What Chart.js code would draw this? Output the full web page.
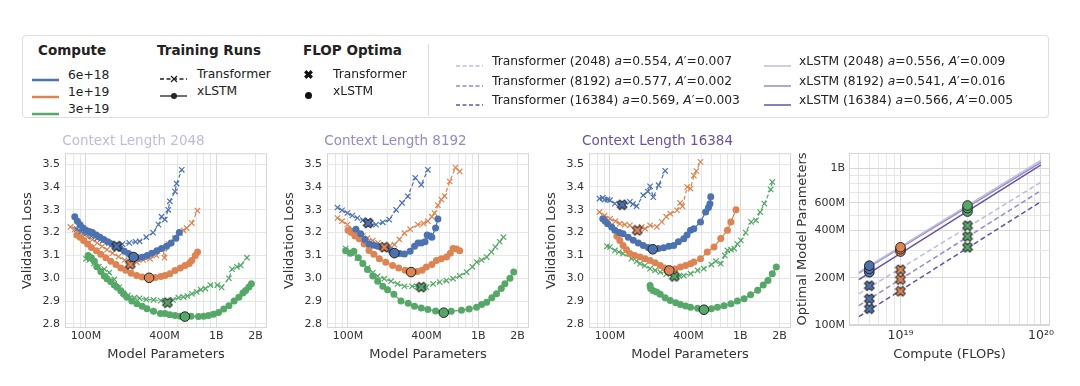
<!DOCTYPE html>
<html>
<head>
<meta charset="utf-8">
<script src="https://cdn.jsdelivr.net/npm/chart.js@4.4.1/dist/chart.umd.min.js"></script>
<style>
body { margin:0; background:#fff; font-family:'DejaVu Sans', sans-serif; color:#222; }
#wrap { position:relative; width:1080px; height:386px; overflow:hidden; }
canvas { position:absolute; }
.legend { position:absolute; left:22px; top:35px; width:1027px; height:83px; border:1px solid #dedede; border-radius:4px; box-sizing:border-box; }
.lt { position:absolute; white-space:nowrap; line-height:16px; color:#222; }
</style>
</head>
<body>
<div id="wrap"><div class="legend"></div></div>
<script>
// ---- data (model params in millions, validation loss) ----
// context 2048
const tf2048_6e18 = [[85,3.215],[92,3.205],[100,3.195],[110,3.185],[122,3.175],[135,3.165],[150,3.155],[171,3.145],[190,3.15],[215,3.155],[240,3.16],[258,3.162],[290,3.18],[327,3.2],[360,3.235],[380,3.27],[403,3.257],[428,3.3],[440,3.337],[482,3.38],[496,3.415],[543,3.475]];
const xl2048_6e18 = [[82,3.27],[86,3.25],[90,3.235],[95,3.22],[100,3.21],[106,3.205],[112,3.2],[120,3.19],[128,3.18],[137,3.17],[147,3.16],[158,3.15],[170,3.14],[183,3.13],[197,3.118],[212,3.108],[232,3.095],[250,3.09],[270,3.092],[295,3.1],[320,3.11],[350,3.12],[380,3.13],[415,3.14],[450,3.155],[490,3.175],[520,3.2]];
const tf2048_1e19 = [[76,3.225],[82,3.215],[88,3.205],[95,3.195],[103,3.18],[112,3.17],[122,3.155],[133,3.14],[145,3.125],[160,3.11],[178,3.095],[198,3.08],[220,3.063],[245,3.07],[275,3.08],[310,3.085],[347,3.1],[390,3.13],[400,3.09],[430,3.15],[480,3.175],[527,3.198],[560,3.21],[592,3.22],[649,3.242],[716,3.296]];
const xl2048_1e19 = [[85,3.19],[90,3.18],[96,3.165],[103,3.15],[110,3.135],[120,3.12],[130,3.105],[142,3.09],[155,3.075],[170,3.06],[185,3.045],[202,3.035],[222,3.022],[245,3.012],[270,3.005],[305,3.002],[340,3.003],[375,3.008],[404,3.012],[440,3.02],[482,3.034],[530,3.045],[576,3.056],[620,3.065],[648,3.078],[690,3.1],[718,3.115]];
const tf2048_3e19 = [[100,3.085],[106,3.08],[115,3.065],[125,3.05],[138,3.04],[151,3.025],[165,2.995],[180,2.96],[192,2.935],[210,2.925],[235,2.915],[258,2.912],[290,2.907],[330,2.905],[375,2.902],[423,2.895],[465,2.905],[512,2.915],[560,2.918],[600,2.922],[650,2.932],[708,2.94],[760,2.95],[825,2.955],[900,2.97],[1020,2.97],[1100,2.96],[1250,3.0],[1320,3.04],[1440,3.05],[1540,3.056],[1720,3.09]];
const xl2048_3e19 = [[104,3.1],[110,3.09],[116,3.075],[121,3.05],[130,3.03],[138,3.01],[145,2.998],[155,2.985],[165,2.97],[173,2.961],[185,2.945],[196,2.93],[206,2.917],[225,2.9],[246,2.888],[270,2.877],[294,2.866],[330,2.855],[373,2.846],[404,2.845],[440,2.84],[482,2.837],[530,2.834],[576,2.833],[640,2.833],[730,2.832],[800,2.834],[871,2.837],[950,2.842],[1040,2.85],[1140,2.865],[1250,2.88],[1370,2.9],[1490,2.917],[1600,2.935],[1680,2.946],[1780,2.962],[1860,2.976]];
const opt2048_tf = [[172,3.14],[219,3.061],[422,2.893]];
const opt2048_xl = [[232,3.093],[305,3.002],[574,2.832]];

// context 8192
const tf8192_6e18 = [[83,3.31],[90,3.298],[99,3.286],[108,3.275],[118,3.264],[130,3.255],[143,3.242],[164,3.235],[185,3.245],[207,3.257],[234,3.3],[260,3.33],[288,3.359],[328,3.44],[365,3.41],[410,3.475]];
const xl8192_6e18 = [[115,3.215],[125,3.195],[135,3.17],[145,3.15],[157,3.145],[169,3.14],[185,3.135],[201,3.13],[215,3.12],[227,3.11],[250,3.108],[271,3.106],[300,3.118],[324,3.14],[345,3.155],[365,3.155],[390,3.16],[405,3.19],[425,3.185],[440,3.18],[470,3.22],[490,3.26]];
const tf8192_1e19 = [[83,3.264],[90,3.25],[99,3.235],[108,3.215],[118,3.198],[130,3.185],[141,3.176],[155,3.165],[170,3.155],[190,3.136],[210,3.142],[227,3.147],[248,3.17],[271,3.198],[300,3.215],[343,3.235],[380,3.24],[410,3.25],[440,3.27],[462,3.286],[490,3.32],[520,3.345],[551,3.36],[604,3.424],[668,3.485],[720,3.468]];
const xl8192_1e19 = [[100,3.21],[106,3.2],[113,3.185],[122,3.173],[133,3.15],[145,3.122],[158,3.105],[174,3.086],[195,3.07],[220,3.056],[245,3.045],[275,3.035],[305,3.027],[340,3.03],[370,3.035],[399,3.049],[440,3.06],[477,3.078],[520,3.085],[570,3.093],[610,3.11],[641,3.13],[680,3.128],[720,3.12]];
const tf8192_3e19 = [[96,3.13],[106,3.11],[118,3.089],[130,3.065],[141,3.045],[155,3.025],[169,3.009],[190,2.998],[214,2.987],[240,2.975],[271,2.965],[310,2.965],[340,2.963],[365,2.961],[399,2.961],[450,2.975],[506,2.983],[570,2.99],[641,2.998],[720,3.01],[813,3.027],[900,3.05],[973,3.071],[1060,3.08],[1160,3.093],[1260,3.115],[1350,3.137],[1460,3.16],[1560,3.18]];
const xl8192_3e19 = [[96,3.12],[104,3.11],[111,3.118],[120,3.09],[130,3.065],[141,3.038],[155,3.01],[169,2.987],[185,2.965],[201,2.95],[225,2.93],[255,2.9],[290,2.89],[324,2.877],[365,2.87],[410,2.863],[470,2.857],[543,2.849],[620,2.855],[743,2.86],[850,2.865],[970,2.873],[1060,2.885],[1160,2.895],[1270,2.915],[1380,2.932],[1500,2.955],[1600,2.976],[1750,3.0],[1870,3.027]];
const opt8192_tf = [[143,3.242],[190,3.136],[365,2.961]];
const opt8192_xl = [[227,3.11],[305,3.027],[543,2.849]];

// context 16384
const tf16384_6e18 = [[83,3.349],[88,3.352],[91,3.345],[96,3.345],[100,3.342],[109,3.327],[124,3.322],[142,3.335],[150,3.325],[160,3.316],[180,3.364],[195,3.38],[203,3.403],[215,3.355],[236,3.408],[265,3.471]];
const xl16384_6e18 = [[88,3.261],[92,3.25],[96,3.239],[103,3.225],[109,3.21],[118,3.2],[126,3.195],[138,3.18],[151,3.166],[165,3.155],[180,3.144],[196,3.135],[213,3.127],[235,3.13],[258,3.134],[283,3.14],[308,3.144],[335,3.16],[368,3.173],[390,3.19],[415,3.21],[440,3.217],[495,3.247],[542,3.29],[570,3.31],[585,3.327],[593,3.357]];
const tf16384_1e19 = [[83,3.29],[91,3.275],[100,3.261],[110,3.25],[119,3.239],[130,3.235],[142,3.232],[162,3.21],[175,3.225],[186,3.217],[203,3.232],[229,3.225],[250,3.247],[270,3.27],[290,3.283],[327,3.298],[345,3.33],[360,3.315],[391,3.4],[415,3.393],[440,3.45],[460,3.47],[495,3.51]];
const xl16384_1e19 = [[113,3.184],[119,3.165],[126,3.144],[134,3.125],[142,3.108],[155,3.1],[170,3.093],[186,3.085],[203,3.078],[222,3.068],[243,3.056],[262,3.045],[285,3.034],[315,3.04],[347,3.049],[380,3.056],[415,3.064],[440,3.071],[495,3.086],[558,3.115],[628,3.137],[708,3.174],[797,3.21],[847,3.247],[927,3.3]];
const tf16384_3e19 = [[95,3.14],[100,3.137],[109,3.122],[117,3.115],[126,3.108],[146,3.086],[160,3.075],[170,3.064],[185,3.055],[203,3.042],[222,3.035],[243,3.027],[270,3.018],[312,3.008],[340,3.01],[368,3.012],[415,3.02],[470,3.035],[524,3.042],[600,3.06],[650,3.075],[708,3.064],[760,3.1],[797,3.122],[850,3.125],[898,3.13],[950,3.15],[1010,3.166],[1100,3.2],[1210,3.247],[1320,3.254],[1420,3.29],[1530,3.327],[1710,3.389],[1760,3.422]];
const xl16384_3e19 = [[203,2.968],[205,2.955],[215,2.945],[228,2.94],[243,2.93],[265,2.915],[290,2.903],[320,2.893],[347,2.885],[380,2.878],[415,2.873],[470,2.868],[526,2.864],[600,2.866],[668,2.873],[750,2.88],[847,2.888],[950,2.9],[1070,2.91],[1200,2.928],[1360,2.947],[1500,2.97],[1630,2.99],[1760,3.02],[1890,3.049]];
const opt16384_tf = [[124,3.322],[162,3.21],[312,3.008]];
const opt16384_xl = [[213,3.127],[285,3.034],[526,2.862]];

// optimal model parameters (millions) per compute budget
const computeLevels = [6e18, 1e19, 3e19];
const optTf2048 = [178, 225, 430];
const optTf8192 = [147, 195, 367];
const optTf16384 = [127, 164, 313];
const optXl2048 = [239, 313, 578];
const optXl8192 = [228, 304, 556];
const optXl16384 = [217, 294, 529];
// fitted power-law lines, read at both ends (millions)
const fitC = [5.06e18, 1e20];
const fitTf2048 = [158, 814];
const fitTf8192 = [133, 720];
const fitTf16384 = [113, 612];
const fitXl2048 = [217, 1120];
const fitXl8192 = [214, 1090];
const fitXl16384 = [195, 1050];

// legend texts
const computeNames = ['6e+18', '1e+19', '3e+19'];
const contexts = [2048, 8192, 16384];
const fitA_tf = ['0.554', '0.577', '0.569'];
const fitAp_tf = ['0.007', '0.002', '0.003'];
const fitA_xl = ['0.556', '0.541', '0.566'];
const fitAp_xl = ['0.009', '0.016', '0.005'];

// ticks
const paramTickVals = [7e7, 8e7, 9e7, 1e8, 2e8, 3e8, 4e8, 5e8, 6e8, 7e8, 8e8, 9e8, 1e9, 2e9];
const paramTickLabels = ['', '', '', '100M', '', '', '400M', '', '', '', '', '', '1B', '2B'];
const lossTicks = [2.8, 2.9, 3.0, 3.1, 3.2, 3.3, 3.4, 3.5];
const computeTickVals = [5e18, 6e18, 7e18, 8e18, 9e18, 1e19, 2e19, 3e19, 4e19, 5e19, 6e19, 7e19, 8e19, 9e19, 1e20];
const computeTickLabels = ['', '', '', '', '', '10¹⁹', '', '', '', '', '', '', '', '', '10²⁰'];
const optTickVals = [1e8, 2e8, 3e8, 4e8, 5e8, 6e8, 7e8, 8e8, 9e8, 1e9];
const optTickLabels = ['100M', '200M', '', '400M', '', '600M', '', '', '', '1B'];

// ---- styles ----
const computeColors = ['#4c72b0', '#dd8452', '#55a868'];
const ctxColors = ['#bcbddc', '#908bcc', '#6a51a3'];
const GRID = '#e6e6e6', GRID_MAJOR = '#d8d8d8', TXT = '#333';

Chart.defaults.font.family = "'DejaVu Sans', sans-serif";
Chart.defaults.animation = false;

const wrap = document.getElementById('wrap');

function makeX(fill, size, edge) {
  const c = document.createElement('canvas');
  c.width = c.height = size;
  const g = c.getContext('2d');
  const h = size / 2, a = size * 0.42, w = size * 0.15;
  g.translate(h, h);
  g.rotate(Math.PI / 4);
  g.beginPath();
  g.moveTo(-w, -a); g.lineTo(w, -a); g.lineTo(w, -w); g.lineTo(a, -w); g.lineTo(a, w); g.lineTo(w, w);
  g.lineTo(w, a); g.lineTo(-w, a); g.lineTo(-w, w); g.lineTo(-a, w); g.lineTo(-a, -w); g.lineTo(-w, -w);
  g.closePath();
  g.fillStyle = fill;
  g.fill();
  if (edge) { g.lineWidth = 1; g.strokeStyle = '#222'; g.stroke(); }
  return c;
}

const frame = {
  id: 'frame',
  beforeDatasetsDraw(chart) {
    const a = chart.chartArea, g = chart.ctx;
    g.save();
    g.strokeStyle = '#d6d6d6';
    g.lineWidth = 1;
    g.strokeRect(a.left + 0.5, a.top + 0.5, a.width - 1, a.height - 1);
    g.restore();
  }
};

function addCanvas(left, top, w, h) {
  const c = document.createElement('canvas');
  c.width = w; c.height = h;
  c.style.left = left + 'px'; c.style.top = top + 'px';
  wrap.appendChild(c);
  return c;
}

function runSet(arr, color, isTf) {
  return {
    data: arr.map(p => ({ x: p[0] * 1e6, y: p[1] })),
    showLine: true,
    borderColor: color,
    borderWidth: 1.2,
    borderDash: isTf ? [4, 2.5] : [],
    pointStyle: isTf ? 'crossRot' : 'circle',
    pointRadius: isTf ? 3.8 : 3.5,
    pointBackgroundColor: color,
    pointBorderColor: color,
    pointBorderWidth: isTf ? 1.2 : 0,
    order: 2
  };
}

function panel(left, title, tcolor, runs, optTf, optXl) {
  const c = addCanvas(left, 125, 280, 261);
  const ds = [];
  ds.push({
    data: optXl.map(p => ({ x: p[0] * 1e6, y: p[1] })),
    pointStyle: 'circle', pointRadius: 4.8,
    pointBackgroundColor: computeColors, pointBorderColor: '#222', pointBorderWidth: 1,
    showLine: false, order: 0
  });
  ds.push({
    data: optTf.map(p => ({ x: p[0] * 1e6, y: p[1] })),
    pointStyle: computeColors.map(col => makeX(col, 12, true)),
    showLine: false, order: 0
  });
  runs.forEach((r, i) => {
    ds.push(runSet(r[0], computeColors[i], true));
    ds.push(runSet(r[1], computeColors[i], false));
  });
  new Chart(c, {
    type: 'scatter',
    data: { datasets: ds },
    options: {
      responsive: false,
      devicePixelRatio: 1,
      layout: { padding: { left: 0, right: 13, top: 0, bottom: 0 } },
      plugins: {
        legend: { display: false },
        tooltip: { enabled: false },
        title: { display: true, text: title, color: tcolor, font: { size: 13.5, weight: 'normal' }, padding: { top: 8, bottom: 4 } }
      },
      scales: {
        x: {
          type: 'logarithmic', min: 6.9e7, max: 2.45e9,
          afterBuildTicks: s => { s.ticks = paramTickVals.map(v => ({ value: v })); },
          ticks: { autoSkip: false, maxRotation: 0, padding: 2, color: TXT, font: { size: 11 },
            callback: (v, i) => paramTickLabels[i] },
          grid: { drawTicks: false, color: g => (g.tick && (g.tick.value === 1e8 || g.tick.value === 1e9)) ? GRID_MAJOR : GRID },
          border: { display: false },
          title: { display: true, text: 'Model Parameters', color: TXT, font: { size: 13 }, padding: { top: 0, bottom: 24 } },
          afterFit: s => { s.height = 58; }
        },
        y: {
          min: 2.782, max: 3.548,
          afterBuildTicks: s => { s.ticks = lossTicks.map(v => ({ value: v })); },
          ticks: { padding: 5, color: TXT, font: { size: 11 }, callback: v => v.toFixed(1) },
          grid: { drawTicks: false, color: GRID },
          border: { display: false },
          title: { display: true, text: 'Validation Loss', color: TXT, font: { size: 13 }, padding: { top: 20, bottom: 0 } },
          afterFit: s => { s.width = 65; }
        }
      }
    },
    plugins: [frame]
  });
}

panel(0, 'Context Length 2048', ctxColors[0],
  [[tf2048_6e18, xl2048_6e18], [tf2048_1e19, xl2048_1e19], [tf2048_3e19, xl2048_3e19]], opt2048_tf, opt2048_xl);
panel(262, 'Context Length 8192', ctxColors[1],
  [[tf8192_6e18, xl8192_6e18], [tf8192_1e19, xl8192_1e19], [tf8192_3e19, xl8192_3e19]], opt8192_tf, opt8192_xl);
panel(524, 'Context Length 16384', ctxColors[2],
  [[tf16384_6e18, xl16384_6e18], [tf16384_1e19, xl16384_1e19], [tf16384_3e19, xl16384_3e19]], opt16384_tf, opt16384_xl);

// ---- scaling chart ----
(function () {
  const c = addCanvas(790, 125, 290, 261);
  const fitsTf = [fitTf2048, fitTf8192, fitTf16384];
  const fitsXl = [fitXl2048, fitXl8192, fitXl16384];
  const optsTf = [optTf2048, optTf8192, optTf16384];
  const optsXl = [optXl2048, optXl8192, optXl16384];
  const ds = [];
  for (let k = 0; k < 3; k++) {
    ds.push({
      data: computeLevels.map((cv, i) => ({ x: cv, y: optsXl[k][i] * 1e6 })),
      pointStyle: 'circle', pointRadius: 4.8,
      pointBackgroundColor: computeColors, pointBorderColor: '#222', pointBorderWidth: 1,
      showLine: false, order: 0
    });
    ds.push({
      data: computeLevels.map((cv, i) => ({ x: cv, y: optsTf[k][i] * 1e6 })),
      pointStyle: computeColors.map(col => makeX(col, 12, true)),
      showLine: false, order: 0
    });
    ds.push({
      data: fitC.map((cv, i) => ({ x: cv, y: fitsXl[k][i] * 1e6 })),
      showLine: true, pointRadius: 0, borderColor: ctxColors[k], borderWidth: 1.5, order: 2
    });
    ds.push({
      data: fitC.map((cv, i) => ({ x: cv, y: fitsTf[k][i] * 1e6 })),
      showLine: true, pointRadius: 0, borderColor: ctxColors[k], borderWidth: 1.5, borderDash: [5, 3], order: 2
    });
  }
  new Chart(c, {
    type: 'scatter',
    data: { datasets: ds },
    options: {
      responsive: false,
      devicePixelRatio: 1,
      layout: { padding: { left: 0, right: 30, top: 28, bottom: 0 } },
      plugins: { legend: { display: false }, tooltip: { enabled: false } },
      scales: {
        x: {
          type: 'logarithmic', min: 4.3e18, max: 1.16e20,
          afterBuildTicks: s => { s.ticks = computeTickVals.map(v => ({ value: v })); },
          ticks: { autoSkip: false, maxRotation: 0, padding: 3, color: TXT, font: { size: 12.5 },
            callback: (v, i) => computeTickLabels[i] },
          grid: { drawTicks: false, color: g => (g.tick && (g.tick.value === 1e19 || g.tick.value === 1e20)) ? GRID_MAJOR : GRID },
          border: { display: false },
          title: { display: true, text: 'Compute (FLOPs)', color: TXT, font: { size: 13 }, padding: { top: 0, bottom: 24 } },
          afterFit: s => { s.height = 61; }
        },
        y: {
          type: 'logarithmic', min: 1e8, max: 1.25e9,
          afterBuildTicks: s => { s.ticks = optTickVals.map(v => ({ value: v })); },
          ticks: { autoSkip: false, padding: 4, color: TXT, font: { size: 11 },
            callback: (v, i) => optTickLabels[i] },
          grid: { drawTicks: false, color: g => (g.tick && optTickLabels[g.index]) ? GRID_MAJOR : GRID },
          border: { display: false },
          title: { display: true, text: 'Optimal Model Parameters', color: TXT, font: { size: 13 }, padding: { top: 5, bottom: 0 } },
          afterFit: s => { s.width = 59; }
        }
      }
    },
    plugins: [frame]
  });
})();

// ---- legend ----
function txt(x, yc, html, size, bold) {
  const d = document.createElement('div');
  d.className = 'lt';
  d.innerHTML = html;
  d.style.left = x + 'px';
  d.style.top = (yc - 8) + 'px';
  d.style.fontSize = size + 'px';
  if (bold) d.style.fontWeight = 'bold';
  wrap.appendChild(d);
}
function svg(x, y, w, h, inner) {
  const d = document.createElement('div');
  d.style.position = 'absolute';
  d.style.left = x + 'px'; d.style.top = y + 'px';
  d.innerHTML = '<svg width="' + w + '" height="' + h + '">' + inner + '</svg>';
  wrap.appendChild(d);
}

txt(38, 50, 'Compute', 13.5, true);
computeNames.forEach((n, i) => {
  const y = 75 + i * 17;
  svg(32, y - 5, 28, 10, '<line x1="0" x2="27" y1="5" y2="5" stroke="' + computeColors[i] + '" stroke-width="2.5"/>');
  txt(68, y, n, 12.3);
});

txt(157, 50, 'Training Runs', 13.5, true);
svg(160, 69, 28, 10, '<line x1="0" x2="27" y1="5" y2="5" stroke="#222" stroke-width="1.3" stroke-dasharray="4,2.5"/>' +
  '<line x1="11" x2="17" y1="2" y2="8" stroke="#222" stroke-width="1.2"/><line x1="11" x2="17" y1="8" y2="2" stroke="#222" stroke-width="1.2"/>');
txt(197, 74, 'Transformer', 12.3);
svg(160, 86, 28, 10, '<line x1="0" x2="27" y1="5" y2="5" stroke="#222" stroke-width="1.3"/><circle cx="14" cy="5" r="3" fill="#222"/>');
txt(197, 91, 'xLSTM', 12.3);

txt(303, 50, 'FLOP Optima', 13.5, true);
const lx = makeX('#111', 11, false);
lx.style.left = '303px'; lx.style.top = '69px';
wrap.appendChild(lx);
svg(303, 86, 11, 11, '<circle cx="5.5" cy="5.5" r="3.5" fill="#111"/>');
txt(333, 74, 'Transformer', 12.3);
txt(333, 91, 'xLSTM', 12.3);

svg(428, 44, 2, 72, '<line x1="0.5" x2="0.5" y1="0" y2="72" stroke="#dcdcdc" stroke-width="1"/>');

contexts.forEach((cl, i) => {
  const y = 61 + i * 19.5;
  svg(456, y - 5, 28, 10, '<line x1="0" x2="27" y1="5" y2="5" stroke="' + ctxColors[i] + '" stroke-width="1.5" stroke-dasharray="4,2.5"/>');
  txt(492, y, 'Transformer (' + cl + ') <i>a</i>=' + fitA_tf[i] + ', <i>A</i>′=' + fitAp_tf[i], 12.3);
  svg(764, y - 5, 28, 10, '<line x1="0" x2="27" y1="5" y2="5" stroke="' + ctxColors[i] + '" stroke-width="1.5"/>');
  txt(799, y, 'xLSTM (' + cl + ') <i>a</i>=' + fitA_xl[i] + ', <i>A</i>′=' + fitAp_xl[i], 12.3);
});
</script>
</body>
</html>
